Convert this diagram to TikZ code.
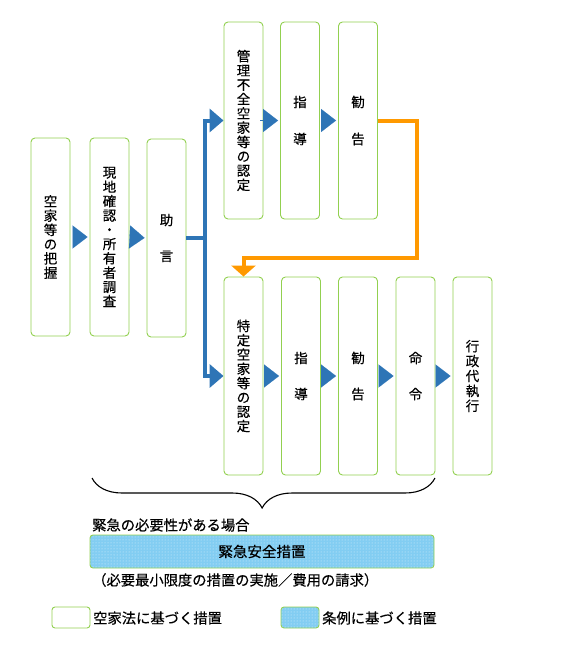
\documentclass[tikz,border=0pt]{standalone}
\usepackage{fontspec}
\newfontfamily\jp[FakeBold=0.4]{Noto Sans CJK JP}
\usetikzlibrary{arrows.meta,decorations.pathreplacing,patterns,calc}
\definecolor{boxgreen}{RGB}{146,208,80}
\definecolor{arrblue}{RGB}{46,117,182}
\definecolor{arrorange}{RGB}{255,153,0}
\definecolor{fillblue}{RGB}{130,205,242}
\begin{document}
\begin{tikzpicture}[x=1pt,y=-1pt,
  stepbox/.style={draw=boxgreen,line width=0.9pt,rounded corners=4pt,fill=white,
    minimum width=39pt,inner sep=0pt,align=center,
    font=\jp\fontsize{13.5}{14.3}\selectfont},
  topbox/.style={stepbox,minimum height=197pt},
  botbox/.style={stepbox,minimum height=198pt},
  tri/.style={arrblue,line width=0.1pt,shorten <=3pt,shorten >=2pt,
    -{Triangle[length=15pt,width=23pt]}},
  branch/.style={arrblue,line width=4pt,line join=miter,
    -{Triangle[length=14pt,width=23pt]}},
  orangeline/.style={arrorange,line width=4pt,line join=miter,
    -{Triangle[length=11pt,width=24pt]}},
  ordfill/.style={draw=boxgreen,line width=0.9pt,rounded corners=3pt,fill=fillblue,
    postaction={pattern=dots,pattern color=white!70!fillblue}},
  lbl/.style={font=\jp\fontsize{14.3}{16}\selectfont,inner sep=0pt,anchor=west}
]
\useasboundingbox (0,0) rectangle (584,669);

% left column
\node[stepbox,minimum height=198pt] (a) at (50.5,237) {空\\家\\等\\の\\把\\握};
\node[stepbox,minimum height=198pt] (b) at (109.5,237) {現\\地\\確\\認\\・\\所\\有\\者\\調\\査};
\node[stepbox,minimum height=198pt] (c) at (166.5,238) {助\\[21.7pt]言};

% top row
\node[topbox] (d) at (243.5,120.5) {管\\理\\不\\全\\空\\家\\等\\の\\認\\定};
\node[topbox] (e) at (300,120.5) {指\\[22.7pt]導};
\node[topbox] (f) at (358,120.5) {勧\\[22.7pt]告};

% bottom row
\node[botbox] (g) at (243.5,376) {特\\定\\空\\家\\等\\の\\認\\定};
\node[botbox] (h) at (301,376) {指\\[21.7pt]導};
\node[botbox] (i) at (358,376) {勧\\[21.7pt]告};
\node[botbox] (j) at (415.5,376) {命\\[21.7pt]令};
\node[botbox] (k) at (472.5,376) {行\\[0.6pt]政\\[0.6pt]代\\[0.6pt]執\\[0.6pt]行};

% small arrows
\draw[tri] (a.east) -- (b.west);
\draw[tri] (b.east) -- (c.west);
\draw[tri] (d.east) -- (e.west);
\draw[tri] (e.east) -- (f.west);
\draw[tri] (g.east) -- (h.west);
\draw[tri] (h.east) -- (i.west);
\draw[tri] (i.east) -- (j.west);
\draw[tri] (j.east) -- (k.west);

% branch
\coordinate (br) at (205,238);
\draw[arrblue,line width=4pt] (c.east) -- (br);
\draw[branch] ($(br)+(0,2)$) |- (d.west);
\draw[branch] ($(br)+(0,-2)$) |- (g.west);

% orange route
\coordinate (o1) at (417,258);
\draw[orangeline] (f.east) -| (o1) -| (g.north);

% brace
\draw[line width=1.1pt,decorate,decoration={brace,amplitude=30pt,aspect=0.504}]
  (435,478) -- (92,478);

% emergency
\node[lbl] (t1) at (92,525) {緊急の必要性がある場合};
\node[ordfill,minimum width=344pt,minimum height=33pt,inner sep=0pt,
  font=\jp\fontsize{14.5}{16}\selectfont] (em) at (262,551.5) {緊急安全措置};
\node[lbl] (t2) at (92,580) {（必要最小限度の措置の実施／費用の請求）};

% legend
\node[draw=boxgreen,line width=0.9pt,rounded corners=3pt,minimum width=38pt,minimum height=21pt,inner sep=0pt] (l1) at (71,617.5) {};
\node[lbl] (l1t) at (93,618) {空家法に基づく措置};
\node[ordfill,minimum width=38pt,minimum height=21pt,inner sep=0pt] (l2) at (300,617.5) {};
\node[lbl] (l2t) at (322,618) {条例に基づく措置};
\end{tikzpicture}
\end{document}
